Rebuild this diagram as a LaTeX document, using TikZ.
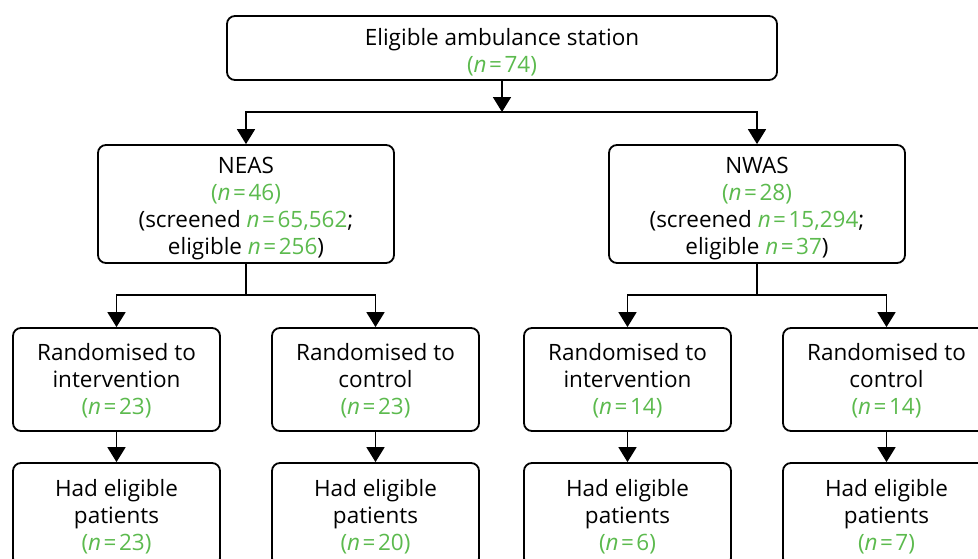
\documentclass[tikz,border=0pt]{standalone}
\usepackage{fontspec}
\setmainfont{Open Sans}
\usetikzlibrary{arrows.meta}
\definecolor{ngreen}{RGB}{92,186,78}
\newcommand{\nnpar}[1]{\textcolor{ngreen}{(\textit{n}\kern2.5pt=\kern2.5pt#1)}}
\newcommand{\nnval}[1]{\textcolor{ngreen}{\textit{n}\kern2.5pt=\kern2.5pt#1}}
\newcommand{\topst}[1]{\rule{0pt}{#1pt}}
\begin{document}
\begin{tikzpicture}[x=1pt,y=-1pt,
  box/.style={draw,line width=1.8pt,rounded corners=8pt,align=center,inner sep=0pt,
    font=\fontsize{22.5}{27}\selectfont},
  arr/.style={line width=1.8pt,-{Triangle[width=18pt,length=15pt]}},
  ln/.style={line width=1.8pt}]
\clip (0,0) rectangle (978,558);
\node[box,minimum width=550pt,minimum height=64pt] (top) at (502,48) {\topst{25}Eligible ambulance station\\\nnpar{74}};
\node[box,minimum width=296pt,minimum height=118pt] (neas) at (246,204) {\topst{25}NEAS\\\nnpar{46}\\(screened \nnval{65,562};\\eligible \nnval{256})};
\node[box,minimum width=296pt,minimum height=118pt] (nwas) at (757,204) {\topst{25}NWAS\\\nnpar{28}\\(screened \nnval{15,294};\\eligible \nnval{37})};
\node[box,minimum width=207pt,minimum height=103pt] (r1) at (116.5,379.5) {\topst{20}Randomised to\\intervention\\\nnpar{23}};
\node[box,minimum width=207pt,minimum height=103pt] (r2) at (375.5,379.5) {\topst{20}Randomised to\\control\\\nnpar{23}};
\node[box,minimum width=207pt,minimum height=103pt] (r3) at (627.5,379.5) {\topst{20}Randomised to\\intervention\\\nnpar{14}};
\node[box,minimum width=207pt,minimum height=103pt] (r4) at (886.5,379.5) {\topst{20}Randomised to\\control\\\nnpar{14}};
\node[box,minimum width=207pt,minimum height=103pt] (h1) at (116.5,514.5) {\topst{21}Had eligible\\patients\\\nnpar{23}};
\node[box,minimum width=207pt,minimum height=103pt] (h2) at (375.5,514.5) {\topst{21}Had eligible\\patients\\\nnpar{20}};
\node[box,minimum width=207pt,minimum height=103pt] (h3) at (627.5,514.5) {\topst{21}Had eligible\\patients\\\nnpar{6}};
\node[box,minimum width=207pt,minimum height=103pt] (h4) at (886.5,514.5) {\topst{21}Had eligible\\patients\\\nnpar{7}};
\coordinate (j1) at (502,112);
\coordinate (j2) at (246,295);
\coordinate (j3) at (757,295);
\draw[arr] (top.south) -- (j1);
\draw[arr] (j1) -| (neas.north);
\draw[arr] (j1) -| (nwas.north);
\draw[ln] (neas.south) -- (j2);
\draw[arr] (j2) -| (r1.north);
\draw[arr] (j2) -| (r2.north);
\draw[ln] (nwas.south) -- (j3);
\draw[arr] (j3) -| (r3.north);
\draw[arr] (j3) -| (r4.north);
\draw[arr] (r1) -- (h1);
\draw[arr] (r2) -- (h2);
\draw[arr] (r3) -- (h3);
\draw[arr] (r4) -- (h4);
\end{tikzpicture}
\end{document}
